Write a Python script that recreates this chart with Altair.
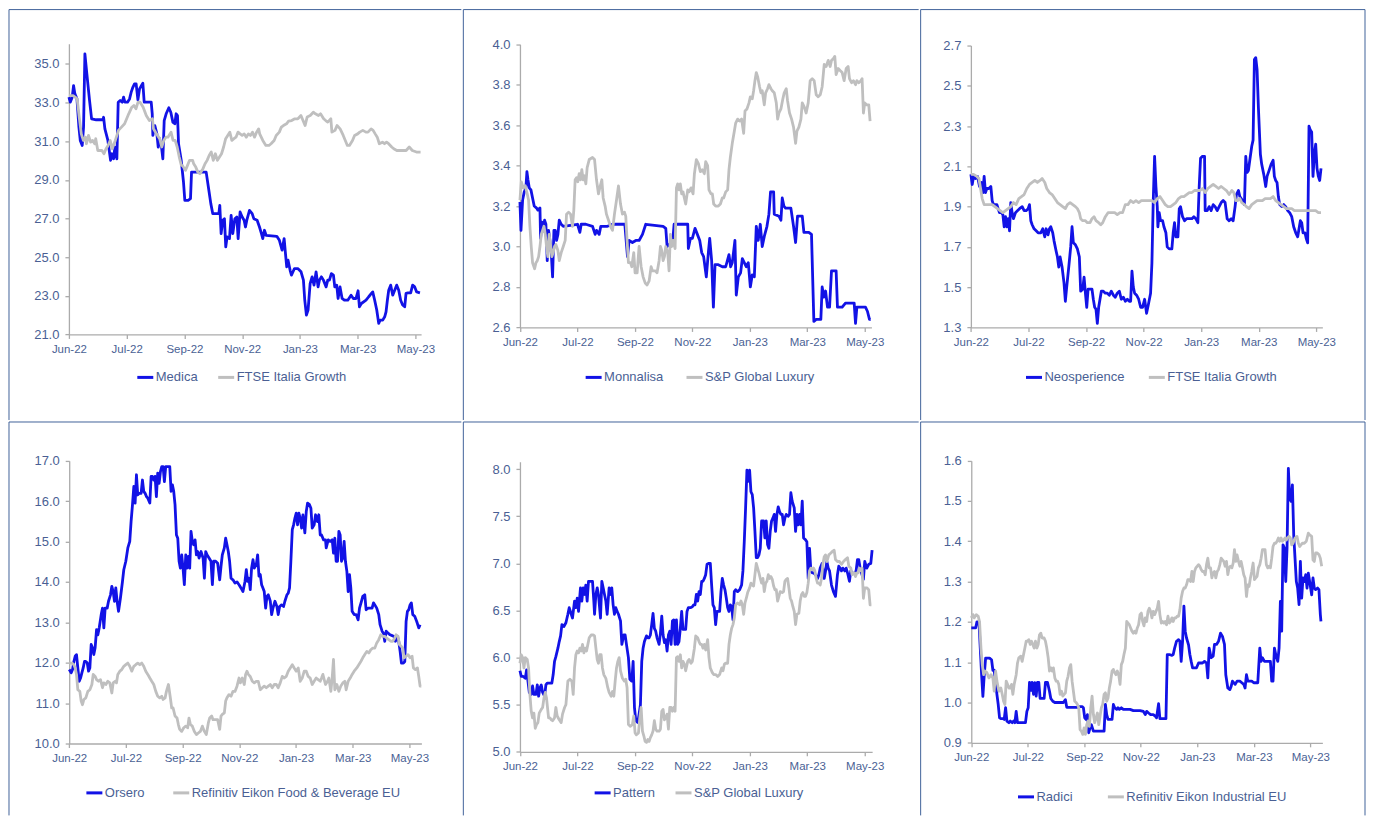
import altair as alt
import pandas as pd

# ---------------- axis data ----------------
TICK_DAYS = [0, 56, 112, 168, 224, 280, 336]          # days after 1 Jun 2022
TICK_LABELS = ["Jun-22", "Jul-22", "Sep-22", "Nov-22", "Jan-23", "Mar-23", "May-23"]

Y_TICKS_1 = [21, 23, 25, 27, 29, 31, 33, 35]
Y_TICKS_2 = [2.6, 2.8, 3.0, 3.2, 3.4, 3.6, 3.8, 4.0]
Y_TICKS_3 = [1.3, 1.5, 1.7, 1.9, 2.1, 2.3, 2.5, 2.7]
Y_TICKS_4 = [10, 11, 12, 13, 14, 15, 16, 17]
Y_TICKS_5 = [5.0, 5.5, 6.0, 6.5, 7.0, 7.5, 8.0]
Y_TICKS_6 = [0.9, 1.0, 1.1, 1.2, 1.3, 1.4, 1.5, 1.6]

# ---------------- series (day, value) ----------------
MEDICA = [(0,33.28),(1.3,33.02),(3.2,33.28),(4.5,33.88),(5.8,33.45),(7.8,33.19),(9.7,31.73),(11,31.04),(12.9,30.78),(14.2,31.73),(15.5,35.52),(17.4,34.48),(20,33.11),(22,32.16),(26.5,32.11),(33,32.11),(33.6,32.24),(34.9,31.64),(37.8,31.04),(40.4,30.01),(41.7,30.35),(43.3,30.09),(44.6,30.69),(46.5,30.09),(47.8,33.02),(49.7,33.11),(51.7,33.02),(53,33.28),(54.3,33.02),(56.8,33.02),(58.8,33.19),(60.4,33.54),(62,33.79),(63.6,33.97),(65.2,33.97),(66.9,33.14),(68.5,33.71),(70.4,33.88),(71.7,34.0),(73,33.02),(79.8,33.02),(80.8,32.42),(81.4,31.30),(83.3,31.81),(85.3,31.38),(86.6,30.69),(87.9,31.13),(89.8,30.69),(91.1,30.09),(92.4,32.07),(94.3,32.42),(96.9,32.73),(98.8,32.50),(100.8,31.99),(102.7,31.90),(104,32.42),(105.3,32.33),(106.3,30.87),(108.9,30.01),(111.1,28.89),(112.4,27.94),(115.6,27.94),(117.9,28.03),(118.9,29.40),(133.1,29.40),(135.7,28.46),(137.6,27.77),(139.5,27.25),(145.4,27.25),(146.3,27.68),(147.6,26.22),(149.2,26.91),(150.8,26.99),(152.1,25.53),(153.4,26.05),(155.7,25.96),(157.3,27.16),(158.9,26.22),(160.9,26.99),(162.8,27.08),(164.1,25.96),(166,27.34),(168,27.08),(169.9,26.91),(171.2,26.56),(172.5,26.91),(175.1,27.42),(177.7,27.25),(179.3,26.99),(182.5,26.91),(184.8,26.56),(186.7,26.22),(188,25.96),(189.6,26.39),(191.2,26.13),(201.6,26.08),(204.1,25.87),(206.7,25.36),(208.7,25.96),(210,25.18),(211.2,24.5),(212.5,24.84),(214.5,24.32),(215.8,24.07),(218.7,24.41),(221.9,24.41),(225.1,24.24),(227.4,23.81),(228.7,22.77),(230.3,22.0),(231.9,22.26),(233.9,23.63),(235.8,23.98),(237.7,23.55),(239.7,24.24),(241.6,23.46),(242.9,23.81),(244.8,23.98),(246.8,23.81),(249.4,23.46),(251,23.81),(252.6,23.81),(254.5,24.15),(256.5,24.07),(257.8,23.46),(259.7,23.55),(261,22.86),(262.9,23.46),(264.9,22.86),(267.1,22.77),(270.4,22.77),(273.6,23.03),(275.8,22.86),(278.4,22.86),(280.4,23.26),(281.7,22.43),(283.6,22.6),(288.1,22.77),(290.7,22.95),(293.3,23.12),(294.6,23.2),(296.5,22.77),(298.5,22.26),(300.4,21.57),(301.7,21.74),(304.3,21.74),(306.2,21.91),(307.5,22.17),(308.8,22.77),(310.1,23.29),(312,23.55),(314,23.03),(315.9,23.29),(317.8,23.55),(319.8,23.29),(321.7,22.77),(323.6,22.52),(325.6,22.43),(326.9,23.12),(328.8,23.15),(331.4,23.15),(333.3,23.55),(335.3,23.46),(337.2,23.2),(340.4,23.15)]

FTSE_GROWTH_A = [(0,33.36),(4,33.36),(6,33.28),(8,33.19),(10,32.25),(12,31.38),(14,31.04),(16,31.21),(17,30.87),(19,31.30),(21,30.95),(23,31.04),(25,30.87),(26,31.13),(28,30.52),(32,30.52),(34,30.35),(36,30.61),(38,30.78),(40,31.04),(42,30.61),(45,31.04),(47,31.38),(48,31.56),(51,31.73),(54,31.90),(58,32.42),(61,32.76),(63,32.85),(65,32.68),(67,33.02),(69,33.02),(72,32.76),(75,32.33),(78,32.07),(81,32.16),(82,31.64),(84,31.47),(86,31.30),(88,31.13),(90,30.70),(92,31.04),(94,31.21),(96,31.21),(99,31.47),(101,31.04),(103,31.04),(105,30.70),(107,30.18),(109,29.75),(110,29.75),(113,29.49),(115,29.75),(117,30.01),(120,30.01),(121,29.83),(123,29.66),(125,29.40),(127,29.32),(130,29.58),(132,29.83),(134,30.01),(136,30.26),(138,30.44),(140,30.01),(142,30.35),(144,30.01),(146,30.18),(148,30.35),(150,30.70),(152,31.13),(154,31.30),(156,31.47),(158,31.04),(160,31.13),(162,31.21),(164,31.47),(166,31.38),(168,31.30),(170,31.38),(172,31.21),(174,31.38),(176,31.30),(178,31.47),(180,31.21),(182,31.47),(184,31.64),(185,31.38),(188,31.04),(191,30.78),(194,30.78),(196,30.87),(199,31.04),(201,31.30),(204,31.47),(206,31.73),(208,31.81),(211,31.90),(213,32.04),(216,32.07),(219,32.16),(222,32.16),(225,32.33),(227,32.07),(229,31.81),(231,32.25),(234,32.33),(237,32.50),(239,32.42),(242,32.33),(244,32.42),(247,32.16),(249,32.07),(251,31.99),(254,32.16),(255,31.47),(258,31.56),(260,31.81),(263,31.64),(266,31.30),(268,31.04),(270,30.78),(272,30.78),(275,31.04),(277,31.30),(280,31.38),(282,31.47),(285,31.56),(288,31.47),(290,31.47),(293,31.64),(295,31.56),(297,31.38),(299,31.21),(301,30.87),(304,30.95),(306,30.87),(308,30.95),(310,30.87),(313,30.70),(315,30.61),(318,30.52),(321,30.52),(324,30.52),(327,30.52),(330,30.70),(333,30.52),(337,30.44),(341,30.44)]

MONNALISA = [(0,3.22),(1,3.08),(2.6,3.23),(4.2,3.27),(5.8,3.29),(6.8,3.37),(7.8,3.33),(9.1,3.29),(10.7,3.28),(12.3,3.24),(13.9,3.20),(16.2,3.19),(17.5,3.18),(19.5,3.19),(20.1,3.04),(21.4,3.12),(22.7,3.10),(24,3.13),(25.3,3.11),(26.6,2.93),(27.9,3.08),(29.2,3.03),(30.5,2.97),(31.8,2.85),(33.1,3.08),(34.4,3.08),(35.7,3.03),(37,3.06),(38.3,3.13),(40.2,3.11),(42.2,3.10),(56.1,3.11),(58.4,3.07),(59.7,3.11),(64.2,3.11),(70.7,3.10),(73.3,3.06),(74.6,3.08),(77.2,3.06),(78.8,3.10),(80.4,3.10),(85.3,3.10),(90.2,3.11),(102.2,3.11),(104.8,2.95),(106.4,3.03),(109.6,3.02),(112.9,3.03),(116.1,3.03),(119.4,3.06),(122.6,3.11),(139.5,3.10),(142.1,3.09),(143.4,3.0),(145.3,3.01),(148.6,3.01),(150.2,3.11),(163.5,3.11),(164.1,2.99),(166.1,3.04),(168,3.04),(170.6,3.09),(172.9,3.06),(175.2,3.03),(177.1,2.97),(179,2.95),(180.3,2.90),(181.6,2.85),(183.6,2.97),(184.9,3.04),(186.8,2.93),(188.5,2.70),(190.1,2.91),(193.3,2.91),(197.2,2.90),(200.5,2.90),(203.7,2.96),(205.3,2.90),(206.9,2.92),(209.5,3.03),(210.8,2.76),(212.8,2.85),(215,2.87),(216.7,2.94),(218.6,2.92),(220.6,2.90),(222.5,2.92),(224.5,2.80),(226.4,2.86),(228.4,2.85),(230.3,3.10),(232.2,3.03),(234.2,3.11),(236.1,3.0),(238.1,3.05),(240.7,3.10),(242.6,3.16),(244.2,3.27),(247.2,3.27),(247.8,3.16),(252.4,3.15),(254.3,3.13),(255.6,3.24),(257.2,3.20),(258.8,3.19),(264,3.19),(266.6,3.10),(268.6,3.02),(270.5,3.15),(275.1,3.15),(276.7,3.07),(281.5,3.07),(284.1,3.06),(286.4,2.63),(288.7,2.64),(293.2,2.64),(294.5,2.80),(296.1,2.75),(297.8,2.78),(299.7,2.70),(301.7,2.70),(303.6,2.88),(308.1,2.88),(309.4,2.70),(314,2.70),(317.2,2.72),(325.7,2.72),(327,2.62),(328.3,2.70),(336.7,2.70),(338.6,2.68),(340.6,2.64),(341.9,2.64)]

SP_LUXURY_A = [(0,3.23),(1.3,3.32),(3.2,3.29),(5.2,3.30),(7.1,3.26),(8.4,3.23),(9.7,3.10),(11,3.0),(12.3,2.92),(14.3,2.89),(15.6,2.92),(16.9,2.93),(18.2,2.95),(19.5,3.0),(20.8,3.06),(22.1,3.08),(23.4,3.10),(24.7,3.06),(25.9,3.0),(27.2,2.95),(28.5,3.06),(29.8,3.01),(31.1,2.95),(32.4,2.97),(33.7,3.0),(35,3.01),(37,2.98),(38.3,2.93),(40.2,2.97),(42.2,3.0),(44.1,3.03),(45.4,3.16),(47.4,3.17),(49.3,3.16),(51.2,3.10),(52.5,3.18),(53.8,3.33),(55.1,3.34),(56.4,3.32),(57.7,3.36),(59,3.33),(60.3,3.38),(61.6,3.33),(62.9,3.35),(64.2,3.31),(65.5,3.39),(67.5,3.43),(70.7,3.44),(72.7,3.43),(74.6,3.33),(76.5,3.26),(77.8,3.29),(79.8,3.33),(81.1,3.24),(83,3.20),(84.3,3.16),(86.3,3.13),(88.2,3.10),(90.2,3.08),(92.1,3.16),(94.1,3.23),(96,3.30),(98,3.21),(99.9,3.16),(101.8,3.17),(103.1,3.15),(104.4,3.03),(105.7,2.92),(107.7,2.92),(109,2.90),(110.9,2.97),(112.2,2.87),(114.2,2.87),(116.1,3.0),(118.1,2.90),(120,2.85),(122,2.82),(123.9,2.81),(125.9,2.83),(127.8,2.90),(129.1,2.88),(131.7,2.88),(133.6,2.87),(135.6,2.93),(136.9,3.0),(138.2,2.98),(139.5,2.93),(140.8,2.95),(142.1,3.0),(144,2.97),(145.3,2.88),(146.6,3.06),(147.9,3.0),(149.2,3.03),(151.2,2.99),(152.5,3.29),(153.7,3.31),(155,3.28),(156.3,3.31),(157.6,3.26),(158.9,3.27),(160.2,3.24),(161.5,3.21),(163.5,3.28),(164.8,3.27),(166.7,3.29),(168.7,3.26),(170,3.36),(171.9,3.43),(173.9,3.41),(175.8,3.37),(177.7,3.38),(179.7,3.36),(181,3.42),(182.9,3.40),(184.2,3.28),(186.2,3.26),(187.5,3.26),(188.8,3.21),(190.7,3.20),(193.3,3.20),(195.3,3.21),(197.2,3.24),(198.5,3.24),(200.5,3.27),(202.4,3.28),(203.7,3.38),(205,3.44),(206.9,3.51),(208.9,3.57),(210.2,3.61),(212.1,3.63),(214.1,3.62),(216,3.63),(218,3.56),(219.3,3.67),(221.2,3.68),(223.2,3.71),(224.5,3.74),(226.4,3.73),(227.7,3.77),(229,3.82),(230.3,3.86),(231.6,3.84),(233.5,3.79),(234.8,3.76),(236.1,3.77),(238.1,3.70),(239.4,3.76),(241.3,3.78),(242.6,3.80),(244.6,3.78),(245.9,3.77),(247.8,3.76),(249.8,3.71),(251.1,3.63),(252.4,3.66),(254.3,3.68),(256.2,3.73),(257.5,3.76),(259.5,3.78),(260.8,3.72),(262.7,3.66),(264.7,3.63),(266.6,3.59),(268.6,3.51),(269.9,3.57),(271.8,3.59),(273.8,3.63),(275.1,3.71),(277,3.69),(278.9,3.66),(280.9,3.71),(282.8,3.82),(284.8,3.83),(286.7,3.82),(288.7,3.75),(290.6,3.74),(292.6,3.75),(294.5,3.79),(296.5,3.90),(298.4,3.89),(300.4,3.92),(302.3,3.89),(303.6,3.92),(305.5,3.93),(306.8,3.94),(308.1,3.85),(310.1,3.88),(312,3.87),(314,3.86),(315.9,3.82),(317.9,3.88),(319.8,3.89),(321.1,3.83),(323.1,3.81),(325,3.82),(327,3.80),(328.3,3.82),(330.2,3.81),(332.2,3.82),(333.4,3.83),(334.7,3.66),(336,3.71),(338,3.70),(339.9,3.70),(341.2,3.62)]

NEOSPERIENCE = [(0,2.06),(1.3,2.01),(2.6,2.05),(4.5,2.04),(6.5,2.05),(8.4,2.0),(10.4,2.02),(11.7,1.97),(12.9,2.05),(14.2,1.97),(15.5,1.99),(17.5,1.99),(19.4,2.0),(20.7,1.93),(22,1.91),(24,1.91),(25.3,1.91),(26.5,1.89),(27.8,1.87),(29.8,1.87),(31.1,1.86),(32.4,1.80),(33.7,1.85),(35,1.80),(36.3,1.84),(37.6,1.78),(38.8,1.92),(40.1,1.87),(41.4,1.84),(43.4,1.87),(45.3,1.88),(47.3,1.89),(49.9,1.90),(51.8,1.88),(53.7,1.88),(55.7,1.89),(57,1.91),(58.3,1.83),(59.6,1.81),(61.5,1.79),(63.5,1.78),(65.4,1.77),(68,1.77),(69.9,1.79),(71.9,1.75),(73.2,1.79),(75.1,1.76),(76.4,1.79),(77.7,1.80),(79.6,1.77),(80.9,1.73),(82.9,1.68),(84.2,1.65),(85.5,1.60),(86.8,1.65),(88.7,1.60),(90.6,1.52),(91.9,1.43),(93.2,1.50),(95.2,1.60),(97.1,1.70),(98.4,1.80),(99.7,1.72),(101.7,1.71),(103.6,1.69),(105.5,1.65),(106.8,1.48),(108.8,1.49),(110.1,1.55),(111.4,1.47),(112.7,1.40),(114,1.49),(115.9,1.49),(117.8,1.49),(119.1,1.44),(120.4,1.40),(121.7,1.39),(123,1.32),(124.3,1.40),(125.6,1.44),(126.9,1.48),(128.8,1.48),(130.8,1.47),(132.7,1.47),(134.7,1.46),(136.6,1.48),(138.6,1.46),(140.5,1.45),(142.4,1.47),(144.4,1.48),(146.3,1.44),(148.3,1.45),(150.2,1.43),(152.2,1.44),(154.1,1.43),(155.4,1.43),(156.7,1.58),(158,1.50),(159.3,1.47),(161.2,1.46),(163.2,1.44),(165.1,1.40),(167,1.40),(169,1.44),(170.9,1.37),(172.9,1.42),(174.8,1.47),(176.1,1.62),(177.4,1.93),(178.7,2.15),(180,2.0),(181.3,1.90),(181.9,1.80),(183.2,1.87),(184.5,1.83),(186.5,1.83),(187.8,1.80),(189.7,1.77),(191,1.70),(192.9,1.69),(195.5,1.69),(196.8,1.77),(198.1,1.82),(199.4,1.75),(201.4,1.75),(202.7,1.89),(203.9,1.90),(205.9,1.85),(207.8,1.83),(209.8,1.84),(212.4,1.84),(215,1.84),(216.9,1.85),(218.8,1.84),(220.8,1.82),(222.1,2.0),(223.4,2.14),(225.3,2.15),(227.3,2.15),(227.9,1.88),(229.9,1.88),(231.8,1.90),(233.7,1.88),(235.7,1.91),(237.6,1.90),(239.6,1.88),(241.5,1.90),(243.5,1.92),(245.4,1.93),(247.3,1.92),(249.3,1.84),(251.2,1.83),(253.2,1.84),(255.1,1.83),(257,1.90),(258.3,1.96),(260.3,1.98),(261.6,1.95),(264.2,1.93),(266.1,1.91),(267.4,2.15),(268.7,2.07),(270,2.08),(271.3,2.13),(273.2,2.20),(274.5,2.23),(275.8,2.63),(277.1,2.64),(278.4,2.58),(279.7,2.39),(281.6,2.16),(282.9,2.11),(284.9,2.06),(286.8,2.0),(288.1,2.05),(290.1,2.08),(292,2.11),(294,2.13),(295.2,2.05),(296.5,2.03),(297.8,2.02),(299.1,1.95),(300.4,1.91),(302.4,1.90),(304.3,1.91),(306.2,1.90),(308.2,1.88),(310.1,1.87),(312.1,1.85),(314,1.80),(316,1.77),(317.9,1.75),(319.2,1.79),(320.5,1.83),(321.8,1.82),(323.1,1.77),(325,1.77),(326.3,1.74),(327.6,1.72),(328.9,2.30),(330.2,2.28),(331.5,2.27),(332.8,2.05),(334.1,2.16),(335.4,2.21),(336.7,2.09),(338,2.05),(339.3,2.03),(340.6,2.09)]

FTSE_GROWTH_B = [(0,2.06),(2.6,2.06),(5.8,2.05),(7.8,2.04),(9.1,2.0),(11,1.94),(12.9,1.91),(15.5,1.91),(18.1,1.91),(20.7,1.91),(23.3,1.90),(25.9,1.89),(28.5,1.88),(31.1,1.87),(33.7,1.88),(36.3,1.89),(38.8,1.90),(41.4,1.92),(44,1.91),(46.6,1.94),(49.2,1.95),(51.8,1.96),(54.4,1.99),(57,2.01),(59.6,2.02),(62.2,2.03),(64.7,2.02),(67.3,2.03),(69.3,2.04),(71.9,2.02),(73.8,1.99),(76.4,1.97),(79,1.96),(81.6,1.94),(84.2,1.92),(86.8,1.91),(89.3,1.90),(91.9,1.89),(93.9,1.91),(96.5,1.92),(99.1,1.91),(101.7,1.90),(103.6,1.89),(105.5,1.87),(106.8,1.84),(108.8,1.83),(111.4,1.83),(113.3,1.82),(115.9,1.82),(117.8,1.84),(119.8,1.85),(121.7,1.83),(124.3,1.82),(126.3,1.81),(128.2,1.82),(130.8,1.85),(133.4,1.87),(136,1.87),(137.9,1.87),(139.9,1.87),(142.4,1.86),(145,1.87),(147.6,1.87),(150.2,1.91),(152.8,1.91),(155.4,1.93),(158,1.92),(160.6,1.93),(163.2,1.92),(165.8,1.93),(168.3,1.93),(170.9,1.93),(173.5,1.93),(176.1,1.93),(178.7,1.92),(181.3,1.94),(183.9,1.95),(186.5,1.93),(189.1,1.91),(191.6,1.90),(194.2,1.90),(196.8,1.91),(199.4,1.92),(202,1.94),(204.6,1.95),(207.2,1.95),(209.8,1.96),(212.4,1.97),(215,1.97),(217.5,1.98),(220.1,1.98),(222.7,1.98),(225.3,1.99),(227.9,1.97),(230.5,1.99),(233.1,2.0),(235.7,2.01),(238.3,2.0),(240.9,1.99),(243.5,2.0),(246,1.99),(248.6,1.98),(251.2,1.96),(253.8,1.98),(255.7,1.97),(257.7,1.93),(259.6,1.93),(261.6,1.94),(263.5,1.92),(266.1,1.91),(268,1.90),(270.6,1.89),(273.2,1.91),(275.8,1.92),(278.4,1.93),(281,1.93),(283.6,1.93),(286.2,1.94),(288.8,1.94),(291.4,1.94),(294,1.95),(296.5,1.93),(299.1,1.92),(301.7,1.91),(304.3,1.90),(306.9,1.89),(309.5,1.89),(312.1,1.89),(314.7,1.88),(317.3,1.88),(319.8,1.88),(322.4,1.88),(325,1.88),(327.6,1.88),(330.2,1.88),(332.8,1.88),(335.4,1.88),(338,1.87),(340.6,1.87)]

ORSERO = [(0,11.83),(2,11.75),(3.3,11.83),(4.6,12.03),(5.9,12.16),(7.2,12.2),(8.5,11.87),(9.9,11.54),(11.2,11.62),(12.5,11.75),(13.8,11.87),(15.1,12.03),(16.4,12.03),(17.8,12.0),(19.1,11.79),(20.4,11.87),(21.7,12.45),(23,12.37),(24.3,12.2),(25.6,12.37),(27,12.82),(28.3,12.69),(29.6,12.86),(31.6,13.19),(32.9,13.35),(34.2,12.86),(35.5,13.35),(37.5,13.35),(38.8,13.52),(40.8,13.68),(42.1,13.89),(43.4,13.76),(44.7,13.52),(46,13.85),(47.3,13.52),(48.7,13.27),(50.6,13.60),(52.6,14.01),(53.9,14.30),(55.9,14.51),(57.9,14.84),(59.8,15.0),(61.1,15.49),(62.5,15.91),(63.8,16.36),(65.1,15.95),(66.4,16.65),(67.7,16.15),(69,16.19),(71,16.19),(72.3,16.52),(73.6,16.24),(75,16.19),(76.3,16.11),(77.6,16.07),(79.6,15.95),(80.9,16.61),(82.2,16.61),(83.5,16.52),(84.8,16.61),(86.1,16.11),(87.4,16.69),(88.8,16.44),(90.1,16.73),(91.4,16.85),(92.7,16.85),(94,16.48),(95.3,16.85),(97.3,16.85),(99.3,16.85),(100.6,16.24),(101.9,16.40),(103.2,16.24),(104.5,15.91),(105.9,15.16),(107.2,15.08),(108.5,14.51),(109.8,14.34),(111.1,14.67),(112.4,14.34),(113.7,13.93),(115.1,14.67),(116.4,14.34),(117.7,14.63),(119,14.34),(120.3,15.25),(121.6,15.0),(122.9,14.92),(124.3,15.04),(125.6,14.67),(126.9,14.75),(128.2,14.59),(130.2,14.75),(132.2,14.59),(133.5,14.09),(134.8,14.75),(136.1,14.67),(138.1,14.59),(140,14.51),(141.4,13.93),(142.7,14.51),(144.6,14.51),(146.6,14.46),(148.6,14.05),(149.9,14.38),(151.2,14.67),(153.2,14.84),(154.5,15.08),(155.8,14.92),(157.1,14.75),(158.4,14.51),(159.8,14.09),(161.7,14.05),(163.7,13.97),(165.7,14.0),(167.7,13.93),(169.6,13.85),(171.6,13.76),(173.6,14.01),(174.9,14.30),(176.2,14.01),(177.5,14.09),(178.8,13.81),(180.1,14.34),(181.5,14.55),(182.8,14.34),(184.7,14.42),(186.1,14.67),(187.4,14.14),(188.7,14.18),(190,13.93),(191.3,13.85),(192.6,13.76),(194,13.35),(195.3,13.64),(196.6,13.68),(198.6,13.52),(199.9,13.19),(201.2,13.35),(203.2,13.52),(205.1,13.39),(206.4,13.19),(207.8,13.39),(209.7,13.43),(211.7,13.39),(213,13.52),(215,13.68),(216.3,13.72),(217.6,13.85),(218.9,14.51),(220.3,15.29),(221.6,15.41),(222.9,15.58),(224.2,15.70),(225.5,15.41),(226.8,15.70),(228.1,15.58),(229.5,15.33),(230.8,15.66),(232.7,15.21),(234.1,15.74),(235.4,15.95),(237.3,15.91),(238.7,15.82),(240,15.33),(241.9,15.41),(243.3,15.66),(245.2,15.49),(246.5,15.66),(247.9,15.16),(249.2,15.16),(251.2,15.04),(253.1,15.04),(253.8,14.84),(255.8,15.04),(257.7,15.0),(259.7,15.04),(261,14.71),(262.3,15.08),(263.6,14.51),(265,14.51),(266.3,15.25),(267.6,15.16),(268.9,14.51),(270.2,14.59),(271.5,15.0),(272.8,14.51),(274.2,14.26),(275.5,13.76),(276.8,14.18),(278.1,13.85),(279.4,13.27),(281.4,13.19),(283.4,13.19),(285.3,13.06),(286.7,13.35),(288.6,13.52),(289.9,13.64),(291.9,13.68),(293.2,13.31),(295.2,13.35),(297.2,13.35),(299.1,13.35),(300.5,13.48),(301.8,13.43),(303.7,13.35),(305.7,13.19),(307,12.94),(309,12.78),(310.3,12.73),(311.6,12.53),(313,12.78),(314.9,12.73),(316.9,12.69),(318.9,12.67),(320.8,12.65),(322.2,12.53),(324.1,12.65),(325.4,12.53),(326.8,12.28),(328.1,11.99),(330,11.99),(331.4,12.03),(332.7,13.02),(334,13.27),(335.3,13.31),(336.6,13.43),(337.9,13.48),(339.3,13.19),(341.2,13.15),(343.2,13.02),(345.2,12.86),(346.5,12.94)]

REFINITIV_FOOD_BEV = [(0,11.99),(2.6,11.99),(4.6,11.95),(5.9,11.87),(7.2,11.71),(8.5,11.33),(10.5,11.29),(11.8,11.05),(13.1,10.96),(14.5,11.09),(16.4,11.13),(18.4,11.29),(20.4,11.33),(22.4,11.46),(23.7,11.71),(25.6,11.66),(27,11.58),(28.9,11.54),(30.9,11.58),(32.9,11.38),(34.2,11.5),(36.2,11.46),(38.1,11.54),(40.1,11.50),(42.1,11.25),(43.4,11.50),(45.4,11.54),(46.7,11.50),(48,11.71),(50,11.79),(51.9,11.83),(53.9,11.91),(55.9,11.95),(57.9,11.99),(59.8,11.91),(61.8,11.79),(63.8,11.91),(65.7,11.95),(67.7,11.99),(69.7,11.95),(71.7,11.99),(73.6,11.91),(75.6,11.79),(77.6,11.71),(79.6,11.62),(81.5,11.54),(83.5,11.46),(85.5,11.29),(87.4,11.17),(89.4,11.13),(91.4,11.17),(92.7,11.09),(94.7,11.13),(96,11.29),(98,11.46),(99.9,11.13),(101.2,10.88),(102.6,10.88),(104.5,10.68),(106.5,10.63),(107.8,10.47),(109.1,10.35),(111.1,10.30),(113.1,10.39),(115.1,10.43),(117,10.39),(118.3,10.63),(119.7,10.47),(121.6,10.43),(123.6,10.30),(125.6,10.22),(127.5,10.26),(129.5,10.30),(131.5,10.43),(133.5,10.30),(135.4,10.22),(137.4,10.51),(138.7,10.63),(140.7,10.68),(142,10.59),(144,10.59),(146.6,10.59),(148.6,10.35),(149.9,10.68),(151.2,10.72),(153.2,10.76),(154.5,11.05),(155.8,11.13),(157.8,11.21),(159.8,11.17),(161.7,11.29),(163.7,11.29),(165.7,11.42),(167.7,11.62),(169,11.50),(170.9,11.62),(172.9,11.46),(174.2,11.71),(175.5,11.79),(176.9,11.71),(178.8,11.66),(180.8,11.54),(182.8,11.50),(184.7,11.54),(186.7,11.54),(188.7,11.33),(190.7,11.38),(192.6,11.42),(194.6,11.38),(196.6,11.42),(198.6,11.46),(200.5,11.38),(202.5,11.46),(204.5,11.46),(206.4,11.38),(208.4,11.50),(210.4,11.66),(212.4,11.62),(214.3,11.66),(216.3,11.79),(218.3,11.87),(220.3,11.95),(222.2,11.87),(224.2,11.79),(226.2,11.87),(228.1,11.54),(230.1,11.62),(232.1,11.79),(234.1,11.79),(236,11.66),(238,11.62),(240,11.46),(241.9,11.54),(243.9,11.62),(245.9,11.58),(247.9,11.54),(249.2,11.62),(250.5,11.71),(253.1,11.46),(255.1,11.54),(256.4,11.62),(258.4,11.29),(259.7,11.62),(261,12.08),(262.3,11.33),(264.3,11.46),(266.3,11.29),(268.2,11.42),(270.2,11.50),(272.2,11.54),(273.5,11.33),(275.5,11.54),(277.5,11.62),(279.4,11.71),(281.4,11.79),(284,11.87),(286,11.95),(288,12.03),(289.9,12.12),(291.9,12.20),(293.9,12.28),(295.9,12.24),(297.8,12.32),(299.8,12.36),(301.8,12.36),(303.7,12.49),(305.7,12.57),(307.7,12.69),(309.7,12.65),(311.6,12.65),(313.6,12.61),(315.6,12.57),(317.6,12.53),(319.5,12.53),(321.5,12.61),(322.8,12.69),(324.8,12.65),(326.1,12.45),(328.1,12.40),(329.4,12.36),(330.7,12.12),(332.7,12.16),(334.6,12.20),(336.6,12.12),(338.6,12.16),(339.9,11.87),(341.9,11.83),(343.9,11.87),(345.2,11.66),(346.5,11.42),(347.8,11.42)]

PATTERN = [(0,5.86),(1.3,5.80),(3.2,5.80),(5.2,5.78),(6.5,5.87),(7.8,5.75),(9.1,5.63),(11,5.61),(12.3,5.70),(13.6,5.61),(15.6,5.61),(16.9,5.71),(18.2,5.59),(19.5,5.68),(20.8,5.71),(22.1,5.63),(24,5.59),(25.3,5.71),(26.6,5.73),(28.5,5.73),(31.1,5.73),(32.4,5.82),(33.7,5.96),(35,6.01),(37,6.10),(38.3,6.17),(39.6,6.23),(40.9,6.35),(42.8,6.33),(44.8,6.37),(46.7,6.46),(48,6.53),(50,6.46),(51.2,6.42),(53.2,6.60),(54.5,6.53),(55.8,6.63),(57.1,6.49),(59,6.74),(60.3,6.60),(61.6,6.74),(62.9,6.67),(64.2,6.77),(65.5,6.60),(66.8,6.81),(68.8,6.81),(70.7,6.81),(72,6.60),(72.7,6.46),(74,6.67),(75.3,6.74),(76.5,6.67),(78.5,6.42),(79.8,6.81),(81.1,6.74),(82.4,6.67),(83.7,6.60),(85,6.46),(86.9,6.74),(88.2,6.67),(89.5,6.74),(90.8,6.56),(92.1,6.46),(93.4,6.53),(94.7,6.49),(96,6.46),(98,6.39),(99.3,6.14),(101.2,6.24),(102.5,6.24),(103.8,6.14),(105.7,6.0),(107.1,5.77),(109,5.75),(110.3,5.96),(111.6,5.47),(112.9,5.33),(114.8,5.31),(116.1,5.40),(117.4,5.50),(118.7,5.96),(120,6.10),(121.3,6.17),(123.3,6.23),(124.6,6.21),(125.9,6.21),(127.1,6.24),(128.4,6.35),(129.7,6.47),(131,6.31),(132.3,6.28),(133.6,6.21),(135.6,6.14),(136.9,6.26),(138.2,6.44),(139.5,6.24),(140.8,6.16),(142.1,6.19),(143.4,6.07),(144.7,6.24),(146,6.28),(147.3,6.14),(148.6,6.39),(149.9,6.40),(151.2,6.14),(152.5,6.40),(153.7,6.14),(155,6.17),(156.3,6.31),(157.6,6.49),(158.9,6.30),(160.2,6.30),(161.5,6.30),(162.8,6.49),(164.1,6.53),(166.1,6.53),(168,6.54),(169.3,6.56),(170.6,6.56),(171.9,6.67),(173.2,6.60),(174.5,6.70),(175.8,6.67),(177.1,6.81),(178.4,6.81),(179.7,6.84),(181,6.88),(182.3,6.99),(184.2,7.0),(185.5,7.0),(186.8,6.77),(188.1,6.56),(189.4,6.53),(190.7,6.35),(192,6.49),(193.3,6.49),(194.6,6.49),(195.9,6.70),(197.2,6.84),(198.5,6.77),(199.8,6.72),(201.1,6.63),(202.4,6.53),(203.7,6.49),(205,6.56),(206.3,6.54),(207.6,6.40),(208.9,6.70),(210.2,6.72),(212.1,6.70),(214.1,6.72),(216,6.77),(217.3,6.92),(218.6,7.23),(219.9,7.59),(221.2,7.99),(222.5,7.87),(223.8,7.99),(225.1,7.76),(226.4,7.73),(227.7,7.59),(229,7.34),(230.3,7.06),(231.6,7.06),(232.9,7.09),(234.2,7.16),(235.5,7.45),(237.4,7.45),(238.7,7.27),(240,7.45),(241.3,7.20),(242.6,7.16),(243.9,7.34),(245.2,7.45),(246.5,7.48),(247.8,7.52),(249.1,7.34),(250.4,7.52),(251.7,7.60),(253,7.55),(254.3,7.52),(255.6,7.52),(256.9,7.41),(258.2,7.48),(259.5,7.52),(261.4,7.50),(262.7,7.52),(264,7.75),(265.3,7.66),(267.3,7.59),(268.6,7.34),(269.9,7.52),(271.2,7.41),(272.5,7.52),(273.8,7.41),(275.1,7.66),(276.4,7.27),(278.3,7.25),(279.6,7.23),(280.9,6.84),(282.2,7.16),(283.5,6.92),(284.8,6.90),(286.1,6.90),(288,6.88),(290,6.84),(291.3,6.88),(292.6,6.95),(294.5,7.0),(296.5,6.84),(297.8,6.92),(299.1,7.02),(300.4,6.95),(301.7,6.92),(303.6,6.77),(305.5,6.70),(307.5,6.65),(309.4,6.88),(310.7,6.97),(312,6.95),(313.3,6.92),(314.6,6.95),(316.6,6.92),(317.9,6.95),(319.2,6.90),(321.1,6.81),(322.4,6.92),(323.7,6.90),(325.7,6.89),(327.6,6.92),(328.9,7.04),(330.2,7.04),(331.5,6.95),(332.8,6.90),(334.7,6.83),(336,7.02),(338,6.95),(339.9,6.99),(341.9,7.0),(343.2,7.14)]

SP_LUXURY_B = [(0,5.94),(1.3,6.03),(2.6,6.0),(3.9,5.89),(5.2,6.0),(7.1,5.98),(8.4,5.89),(9.7,5.61),(11,5.43),(12.3,5.36),(13.6,5.41),(14.9,5.25),(16.2,5.29),(17.5,5.31),(18.8,5.41),(20.8,5.45),(22.1,5.47),(23.4,5.57),(24.7,5.63),(25.9,5.57),(27.9,5.36),(29.2,5.36),(30.5,5.34),(31.8,5.33),(33.7,5.36),(35,5.47),(36.3,5.38),(38.3,5.34),(40.2,5.31),(41.5,5.40),(43.5,5.47),(44.8,5.50),(46.7,5.75),(48.7,5.77),(50.6,5.75),(51.9,5.61),(53.2,5.89),(54.5,6.03),(55.8,6.07),(57.1,6.05),(58.4,6.10),(59.7,6.07),(61,6.14),(62.3,6.05),(63.6,6.10),(64.9,6.07),(66.2,6.14),(67.5,6.21),(69.4,6.24),(71.4,6.24),(72.7,6.23),(74,6.10),(75.3,5.98),(76.5,5.94),(77.8,6.03),(79.1,6.03),(80.4,5.89),(81.7,5.82),(83.7,5.78),(85.6,5.68),(86.9,5.63),(88.9,5.59),(90.2,5.64),(91.5,5.59),(92.8,5.75),(94.1,5.89),(95.4,5.96),(96.7,6.0),(98,5.86),(99.9,5.78),(101.8,5.75),(103.1,5.77),(104.4,5.68),(105.7,5.29),(107.7,5.27),(109.6,5.29),(110.9,5.38),(112.2,5.20),(113.5,5.18),(115.5,5.20),(116.8,5.36),(118.1,5.47),(119.4,5.22),(120.7,5.17),(122,5.11),(123.3,5.10),(124.6,5.13),(125.9,5.11),(127.1,5.15),(128.4,5.18),(129.7,5.22),(131,5.33),(132.3,5.24),(133.6,5.22),(135.6,5.22),(136.9,5.24),(138.2,5.43),(139.5,5.45),(140.8,5.34),(142.1,5.36),(143.4,5.40),(144.7,5.24),(146,5.47),(147.3,5.47),(148.6,5.43),(149.9,5.47),(151.2,5.43),(152.5,6.0),(153.7,6.01),(155,5.96),(156.3,6.03),(157.6,5.89),(158.9,5.96),(160.2,5.93),(161.5,5.86),(163.5,5.96),(164.8,5.98),(166.7,5.94),(168,5.96),(170,6.10),(171.3,6.23),(173.2,6.21),(174.5,6.17),(175.8,6.14),(177.1,6.14),(178.4,6.10),(179.7,6.14),(181,6.08),(182.9,6.19),(184.2,6.0),(185.5,5.89),(187.5,5.84),(188.8,5.82),(190.7,5.82),(192.7,5.80),(194.6,5.82),(196.6,5.89),(197.9,5.86),(199.2,5.93),(200.5,5.94),(202.4,5.94),(203.7,6.14),(205,6.24),(206.3,6.31),(207.6,6.35),(208.9,6.42),(210.2,6.56),(212.1,6.58),(214.1,6.56),(215.4,6.60),(216.7,6.56),(218,6.46),(219.3,6.58),(220.6,6.63),(221.9,6.69),(223.8,6.74),(225.1,6.79),(226.4,6.77),(227.7,6.76),(229,6.88),(230.3,7.0),(231.6,6.95),(232.9,6.90),(234.2,6.84),(235.5,6.79),(236.8,6.84),(238.1,6.70),(239.4,6.79),(240.7,6.81),(242,6.88),(243.3,6.84),(244.6,6.86),(245.9,6.83),(247.2,6.76),(248.5,6.72),(249.8,6.72),(251.1,6.60),(252.4,6.65),(253.6,6.70),(255.6,6.69),(256.9,6.70),(258.2,6.81),(259.5,6.83),(260.8,6.84),(262.1,6.74),(263.4,6.63),(264.7,6.60),(266,6.54),(267.3,6.49),(268.6,6.35),(269.9,6.46),(271.8,6.47),(273.1,6.60),(274.4,6.67),(275.7,6.69),(277,6.65),(278.3,6.65),(279.6,6.69),(280.9,6.79),(282.2,6.92),(283.5,6.95),(284.8,6.93),(286.1,6.95),(287.4,6.92),(288.7,6.84),(290,6.79),(291.3,6.79),(292.6,6.77),(293.9,6.84),(295.2,6.99),(296.5,7.07),(297.8,7.09),(299.1,7.02),(301,7.09),(303,7.11),(304.9,7.13),(306.2,7.14),(307.5,7.04),(309.4,7.02),(311.4,7.02),(313.3,6.99),(315.3,7.02),(317.2,7.04),(319.2,7.06),(320.5,6.97),(322.4,6.95),(323.7,6.88),(325.7,6.90),(327,6.86),(328.3,6.90),(329.6,6.90),(330.8,6.95),(332.2,6.92),(333.4,6.95),(334.7,6.63),(336,6.74),(338,6.74),(339.9,6.72),(341.2,6.56),(342.5,6.56)]

RADICI = [(0,1.185),(2.3,1.185),(4.3,1.185),(5.6,1.20),(7.6,1.20),(8.9,1.135),(10.2,1.07),(11.5,1.015),(12.9,1.07),(14.2,1.11),(16.2,1.11),(18.1,1.11),(20.1,1.106),(21.4,1.08),(22.7,1.08),(24.1,1.05),(25.4,1.02),(26.7,0.995),(28,0.962),(29.3,0.96),(31.3,0.96),(32.6,0.958),(34,0.987),(35.3,0.954),(37.3,0.95),(38.6,0.954),(40.6,0.95),(41.9,0.954),(43.2,0.95),(44.5,0.978),(45.8,0.95),(47.8,0.95),(49.8,0.95),(51.8,0.95),(53.7,0.95),(55.1,0.978),(56.4,0.987),(57.7,1.05),(59,1.03),(60.3,1.05),(61.7,1.02),(63,1.049),(64.3,1.016),(65.6,1.05),(66.9,1.05),(68.2,1.01),(70.2,1.01),(72.2,1.01),(73.5,1.05),(75.5,1.05),(77.5,1.028),(78.8,1.01),(80.8,1.003),(82.8,1.0),(84.7,1.0),(88,1.0),(91.3,1.0),(93.3,1.007),(94.6,0.988),(97.9,0.988),(101.2,0.988),(104.5,0.988),(107.8,0.99),(109.8,0.99),(111.1,0.987),(112.4,0.962),(113.7,0.958),(115.1,0.97),(116.4,0.925),(117.7,0.937),(119,0.945),(121,0.929),(123,0.929),(126.3,0.929),(129.6,0.929),(131.6,0.929),(132.9,0.995),(134.2,0.97),(135.5,0.958),(137.5,0.958),(139.5,0.958),(140.8,0.995),(142.1,0.987),(144.1,0.983),(145.4,0.987),(146.7,0.983),(148.7,0.987),(150.7,0.983),(154,0.983),(157.3,0.983),(160.6,0.98),(163.9,0.98),(167.2,0.98),(170.5,0.978),(172.4,0.97),(173.8,0.978),(175.7,0.974),(177.7,0.97),(180.3,0.97),(182.3,0.966),(183.6,0.962),(185.6,0.997),(186.9,0.96),(190.2,0.96),(192.9,0.96),(194.2,1.119),(196.2,1.119),(198.8,1.117),(200.1,1.119),(201.5,1.135),(203.4,1.152),(205.4,1.156),(206.7,1.152),(208,1.102),(209.4,1.152),(210.7,1.239),(212,1.177),(213.3,1.16),(215.3,1.143),(216.6,1.119),(217.9,1.102),(219.3,1.086),(221.2,1.086),(223.2,1.086),(225.2,1.098),(227.2,1.098),(229.1,1.098),(231.1,1.102),(233.1,1.098),(234.4,1.061),(235.7,1.135),(237.7,1.111),(239.7,1.115),(241,1.144),(243,1.144),(245,1.152),(247,1.172),(248.9,1.164),(250.9,1.144),(252.2,1.069),(254.2,1.036),(256.2,1.032),(257.5,1.04),(258.8,1.053),(260.1,1.049),(261.5,1.045),(263.4,1.053),(266.1,1.053),(268.1,1.049),(270,1.045),(271.3,1.036),(272.7,1.069),(274,1.053),(276,1.053),(277.9,1.053),(279.9,1.049),(281.9,1.049),(283.9,1.049),(285.9,1.135),(287.2,1.102),(288.5,1.111),(290.5,1.102),(292.4,1.102),(294.4,1.102),(296.4,1.102),(297.7,1.053),(299,1.053),(300.4,1.135),(301.7,1.119),(303.7,1.102),(305,1.135),(306.3,1.251),(307.6,1.177),(308.9,1.391),(310.3,1.383),(311.6,1.30),(312.9,1.383),(314.2,1.581),(315.5,1.507),(316.8,1.499),(318.2,1.54),(319.5,1.416),(320.8,1.358),(322.1,1.30),(323.4,1.284),(324.8,1.243),(326.1,1.35),(327.4,1.259),(328.7,1.309),(330,1.30),(331.4,1.317),(332.7,1.284),(334,1.321),(335.3,1.30),(337.3,1.267),(338.6,1.309),(339.9,1.284),(341.2,1.28),(343.2,1.284),(344.5,1.28),(345.9,1.218),(346.5,1.201)]

REFINITIV_INDUSTRIAL = [(0,1.21),(1.6,1.218),(3,1.21),(4.9,1.218),(6.9,1.214),(8.2,1.20),(9.6,1.135),(10.9,1.094),(12.2,1.069),(13.5,1.078),(15.5,1.074),(17.5,1.061),(19.5,1.069),(21.4,1.061),(22.7,1.028),(24.1,1.078),(25.4,1.053),(27.4,1.028),(29.3,1.036),(30.7,1.02),(32,1.003),(33.3,0.995),(34.6,1.053),(35.9,1.045),(37.3,1.036),(38.6,1.036),(39.9,1.045),(41.2,1.02),(42.5,1.045),(44.5,1.069),(45.8,1.098),(47.1,1.111),(49.1,1.115),(50.4,1.102),(51.8,1.119),(53.1,1.135),(54.4,1.152),(55.7,1.152),(57,1.156),(58.4,1.144),(59.7,1.152),(61,1.144),(62.3,1.135),(63.6,1.152),(65,1.135),(66.3,1.144),(67.6,1.168),(68.9,1.172),(70.2,1.16),(72.2,1.16),(73.5,1.152),(74.8,1.135),(76.2,1.111),(77.5,1.078),(78.8,1.086),(80.1,1.078),(81.4,1.086),(82.8,1.061),(84.1,1.053),(85.4,1.053),(86.7,1.045),(88,1.02),(89.4,1.028),(90.7,1.016),(92,1.02),(93.3,1.024),(94.6,1.053),(95.9,1.065),(97.3,1.086),(98.6,1.094),(99.9,1.053),(101.2,1.028),(102.5,1.003),(103.9,1.0),(105.2,0.995),(106.5,0.987),(107.8,0.933),(109.1,0.929),(110.5,0.921),(111.8,0.937),(113.1,0.921),(114.4,0.945),(115.7,0.954),(117,0.941),(118.4,0.987),(119.7,1.016),(121,0.97),(122.3,0.95),(123.6,0.962),(125,0.974),(126.3,0.945),(127.6,0.966),(128.9,0.987),(130.2,0.995),(131.6,1.02),(132.9,1.024),(134.2,1.003),(135.5,1.011),(136.8,1.036),(138.1,1.053),(139.5,1.078),(140.8,1.082),(142.1,1.074),(143.4,1.069),(144.7,1.078),(146.1,1.069),(147.4,1.045),(148.7,1.094),(150,1.102),(151.3,1.119),(152.7,1.135),(154,1.201),(155.3,1.197),(156.6,1.193),(157.9,1.185),(159.2,1.177),(160.6,1.172),(161.9,1.177),(163.2,1.172),(164.5,1.185),(165.8,1.193),(167.2,1.218),(168.5,1.222),(169.8,1.201),(171.1,1.19),(172.4,1.21),(173.8,1.201),(175.1,1.226),(176.4,1.234),(177.7,1.226),(179,1.21),(180.3,1.226),(181.7,1.218),(183,1.226),(184.3,1.234),(185.6,1.251),(186.9,1.218),(188.3,1.197),(189.6,1.201),(190.9,1.197),(192.2,1.201),(193.5,1.193),(194.9,1.214),(196.2,1.197),(197.5,1.201),(198.8,1.21),(200.1,1.201),(201.5,1.21),(202.8,1.21),(204.1,1.214),(205.4,1.214),(206.7,1.23),(208,1.259),(209.4,1.276),(210.7,1.284),(212,1.284),(213.3,1.292),(214.6,1.305),(216,1.305),(217.3,1.30),(218.6,1.325),(219.9,1.30),(221.2,1.325),(222.5,1.334),(223.9,1.338),(225.2,1.342),(226.5,1.338),(227.8,1.33),(229.1,1.325),(230.5,1.325),(231.8,1.317),(233.1,1.342),(234.4,1.358),(235.7,1.334),(237.1,1.334),(238.4,1.309),(239.7,1.321),(241,1.325),(242.3,1.309),(243.7,1.325),(245,1.33),(246.3,1.342),(247.6,1.358),(248.9,1.354),(250.2,1.35),(251.6,1.338),(252.9,1.35),(254.2,1.317),(255.5,1.334),(256.8,1.338),(258.2,1.334),(259.5,1.346),(260.8,1.379),(262.1,1.35),(263.4,1.366),(264.8,1.35),(266.1,1.338),(267.4,1.35),(268.7,1.334),(270,1.317),(271.3,1.309),(272.7,1.263),(274,1.292),(275.3,1.288),(276.6,1.309),(277.9,1.325),(279.3,1.346),(280.6,1.305),(281.9,1.309),(283.2,1.313),(284.5,1.334),(285.9,1.342),(287.2,1.358),(288.5,1.379),(289.8,1.379),(291.1,1.379),(292.4,1.342),(293.8,1.334),(295.1,1.338),(296.4,1.334),(297.7,1.358),(299,1.387),(300.4,1.395),(301.7,1.395),(303,1.40),(304.3,1.408),(305.6,1.40),(307,1.408),(308.3,1.40),(309.6,1.403),(310.9,1.408),(312.2,1.403),(313.5,1.409),(314.9,1.412),(316.2,1.408),(317.5,1.391),(318.8,1.395),(320.8,1.408),(322.8,1.412),(324.1,1.395),(325.4,1.387),(326.7,1.391),(328.1,1.395),(330,1.395),(332,1.40),(334,1.42),(335.3,1.416),(337.3,1.412),(338.6,1.354),(339.9,1.35),(341.2,1.371),(342.6,1.371),(344.5,1.367),(345.9,1.358),(347.2,1.338)]

# ---------------- style ----------------
BLUE = "#1212E6"
GRAY = "#BFBFBF"
TEXT = "#4A5F94"
AXIS = "#ABABAB"
BORDER = "#41629A"
FONT = "Liberation Sans"
BW = 1.0  # border width

LABEL_EXPR = " : ".join(f"datum.value == {d} ? '{l}'" for d, l in zip(TICK_DAYS, TICK_LABELS)) + " : ''"


def panel(company, comp, index_name, idx, yticks, ydom, W, H, xr, xdom, yr,
          leg_x, leg_y, col_pad, right_border=False):
    dfc = pd.DataFrame({"day": [d for d, _ in comp], "value": [v for _, v in comp], "series": company})
    dfi = pd.DataFrame({"day": [d for d, _ in idx], "value": [v for _, v in idx], "series": index_name})

    x = alt.X("day:Q",
              scale=alt.Scale(domain=xdom, range=xr, nice=False, zero=False),
              axis=alt.Axis(values=TICK_DAYS, labelExpr=LABEL_EXPR, title=None, grid=False,
                            offset=-(H - yr[0]), domainColor=AXIS, domainWidth=1.3,
                            tickColor=AXIS, tickSize=4, tickWidth=1.3,
                            labelFont=FONT, labelFontSize=11.5, labelColor=TEXT,
                            labelPadding=5, labelOverlap=False, labelFlush=False))
    y = alt.Y("value:Q",
              scale=alt.Scale(domain=ydom, range=yr, nice=False, zero=False),
              axis=alt.Axis(values=yticks, format=".1f", title=None, grid=False,
                            offset=-xr[0], domainColor=AXIS, domainWidth=1.3,
                            tickColor=AXIS, tickSize=4, tickWidth=1.3,
                            labelFont=FONT, labelFontSize=13, labelColor=TEXT,
                            labelPadding=6, labelOverlap=False, labelFlush=False))
    color = alt.Color("series:N",
                      scale=alt.Scale(domain=[company, index_name], range=[BLUE, GRAY]),
                      legend=alt.Legend(orient="none", legendX=leg_x, legendY=leg_y,
                                        direction="horizontal", title=None,
                                        symbolType="stroke", symbolSize=256,
                                        symbolStrokeWidth=3, labelFont=FONT,
                                        labelFontSize=13, labelColor=TEXT, labelOffset=1,
                                        columnPadding=col_pad, padding=0, labelLimit=600))

    line_kw = dict(strokeWidth=2.8, strokeJoin="round")
    comp_line = alt.Chart(dfc).mark_line(**line_kw).encode(x=x, y=y, color=color)
    idx_line = alt.Chart(dfi).mark_line(**line_kw).encode(x=x, y=y, color=color)

    # panel frame, kept fully inside the cell so it does not shift the layout
    deco = alt.Chart(pd.DataFrame({"k": [0]}))
    layers = [
        deco.mark_rule(color=BORDER, strokeWidth=BW).encode(x=alt.value(BW), y=alt.value(BW), y2=alt.value(H - BW)),
        deco.mark_rule(color=BORDER, strokeWidth=BW).encode(x=alt.value(BW), x2=alt.value(W - BW), y=alt.value(BW)),
    ]
    if right_border:
        layers.append(deco.mark_rule(color=BORDER, strokeWidth=BW).encode(
            x=alt.value(W - BW), y=alt.value(BW), y2=alt.value(H - BW)))
    layers += [comp_line, idx_line]
    return alt.layer(*layers).properties(width=W, height=H)


HT, HB = 413, 396
p1 = panel("Medica", MEDICA, "FTSE Italia Growth", FTSE_GROWTH_A, Y_TICKS_1, [21, 36.04],
           455, HT, [61, 413.7], [0, 341.5], [326.3, 35.3], 128, 359.6, 14)
p2 = panel("Monnalisa", MONNALISA, "S&P Global Luxury", SP_LUXURY_A, Y_TICKS_2, [2.6, 4.0],
           458, HT, [57.7, 409.7], [0, 342.5], [319.3, 35.7], 122, 359.6, 16)
p3 = panel("Neosperience", NEOSPERIENCE, "FTSE Italia Growth", FTSE_GROWTH_B, Y_TICKS_3, [1.3, 2.7],
           447, HT, [51.3, 403.3], [0, 341.9], [319.3, 37.0], 105, 359.6, 17, right_border=True)
p4 = panel("Orsero", ORSERO, "Refinitiv Eikon Food & Beverage EU", REFINITIV_FOOD_BEV, Y_TICKS_4, [10, 17],
           455, HB, [61.3, 414], [0, 347.8], [323, 39.7], 77, 362.7, 22)
p5 = panel("Pattern", PATTERN, "S&P Global Luxury", SP_LUXURY_B, Y_TICKS_5, [5, 8.08],
           458, HB, [57.7, 410.4], [0, 343.2], [331.3, 40.7], 131, 362.7, 14)
p6 = panel("Radici", RADICI, "Refinitiv Eikon Industrial EU", REFINITIV_INDUSTRIAL, Y_TICKS_6, [0.9, 1.6],
           447, HB, [51.7, 403.3], [0, 347.9], [322.3, 39.7], 97, 366.7, 28, right_border=True)

row1 = (alt.hconcat(p1, p2, p3, spacing=0)
        .resolve_scale(color="independent").resolve_legend(color="independent"))
row2 = (alt.hconcat(p4, p5, p6, spacing=0)
        .resolve_scale(color="independent").resolve_legend(color="independent"))

chart = (
    alt.vconcat(row1, row2, spacing=0)
    .resolve_scale(color="independent")
    .resolve_legend(color="independent")
    .properties(padding=0, background="white")
    .configure_view(stroke="transparent", strokeWidth=0)
    .configure_concat(spacing=0)
)

chart.save("out.html", embed_options={"renderer": "svg", "actions": False})
